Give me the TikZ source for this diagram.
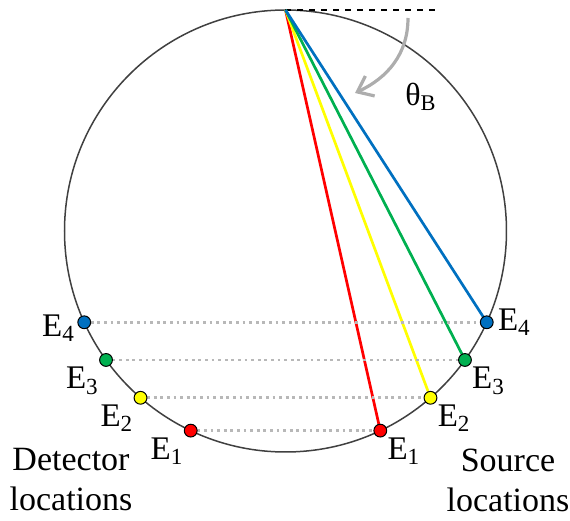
\documentclass[tikz,border=0pt]{standalone}
\usepackage{fontspec}
\setmainfont{Liberation Serif}
\usetikzlibrary{arrows.meta}
\definecolor{ered}{RGB}{255,0,0}
\definecolor{eyellow}{RGB}{255,255,0}
\definecolor{egreen}{RGB}{0,176,80}
\definecolor{eblue}{RGB}{0,112,192}
\begin{document}
\begin{tikzpicture}[x=0.5pt,y=0.5pt,font=\fontsize{16.5}{20}\selectfont]
  \tikzset{
    rim/.style={draw=black!75,line width=0.75pt},
    ray/.style={line width=1.35pt},
    level/.style={draw=black!28,line width=1.3pt,dash pattern=on 1.4pt off 1.9pt},
    dot/.style={circle,draw=black,line width=0.5pt,inner sep=0pt,minimum size=6.4pt},
    caption/.style={align=center,inner sep=0pt}
  }
  \useasboundingbox (0,0) rectangle (570,521);

  % Circle and the top point.
  \coordinate (c) at (285.5,290);
  \draw[rim] (c) circle (221);
  \coordinate (top) at (285.5,511);
  \coordinate (tend) at (437,511);
  \draw[dashed,line width=0.6pt] (top) -- (tend);

  % Source and detector locations, one pair per energy.
  \foreach \i/\a/\col in {1/-64.6/ered,2/-49/eyellow,3/-35.7/egreen,4/-24.4/eblue} {
    \path (c) ++(\a:221) coordinate (s\i);
    \path (c) ++(180-\a:221) coordinate (d\i);
  }
  \foreach \i/\col in {1/ered,2/eyellow,3/egreen,4/eblue} {
    \draw[level] (d\i) -- (s\i);
    \draw[ray,draw=\col] (top) -- (s\i);
  }
  \foreach \i/\col in {1/ered,2/eyellow,3/egreen,4/eblue} {
    \node[dot,fill=\col] (sd\i) at (s\i) {};
    \node[dot,fill=\col] (dd\i) at (d\i) {};
  }

  % Energy labels.
  \node[anchor=west,inner sep=2pt] at (sd4.east) {E\textsubscript{4}};
  \node[anchor=north west,inner sep=1pt] at (sd3.south east) {E\textsubscript{3}};
  \node[anchor=north west,inner sep=1pt] at (sd2.south east) {E\textsubscript{2}};
  \node[anchor=north west,inner sep=1pt] at (sd1.south east) {E\textsubscript{1}};
  \node[anchor=east,inner sep=1pt] at ([yshift=-3]dd4.west) {E\textsubscript{4}};
  \node[anchor=north east,inner sep=1pt] at (dd3.south west) {E\textsubscript{3}};
  \node[anchor=north east,inner sep=1pt] at (dd2.south west) {E\textsubscript{2}};
  \node[anchor=north east,inner sep=1pt] at (dd1.south west) {E\textsubscript{1}};

  % Bragg angle.
  \coordinate (arcA) at (408,503);
  \coordinate (arcB) at (355,428);
  \draw[black!32,line width=1.6pt,-{Straight Barb[length=7pt,width=11pt]}]
    (arcA) to[out=-90,in=25] (arcB);
  \node[font=\fontsize{16}{20}\selectfont] (theta) at (421,424) {θ\textsubscript{B}};

  % Captions.
  \node[caption,font=\fontsize{17}{20}\selectfont] (det) at (71,41) {Detector\\locations};
  \node[caption,font=\fontsize{17}{20}\selectfont] (src) at (508,41) {Source\\locations};
\end{tikzpicture}
\end{document}
